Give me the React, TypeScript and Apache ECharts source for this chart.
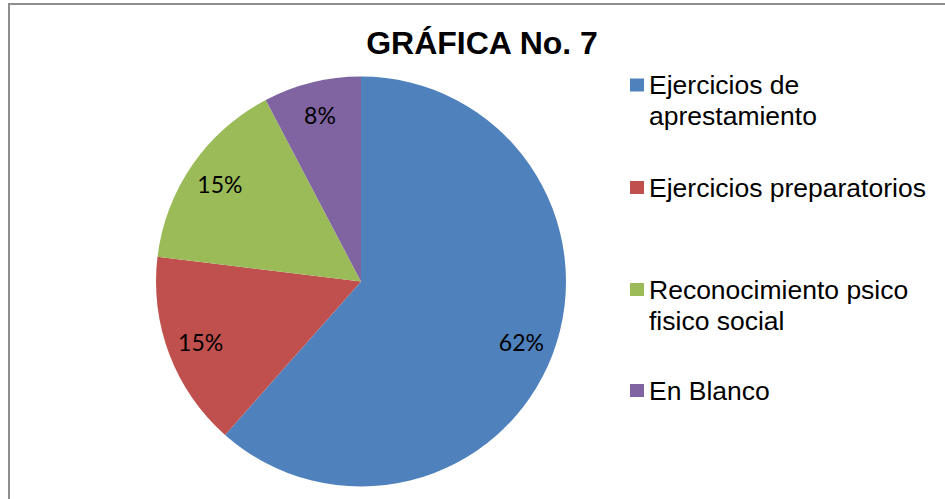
import React, { useEffect, useRef } from "react";
import * as echarts from "echarts";

const titleText = "GRÁFICA No. 7";
const categories = [
  "Ejercicios de\naprestamiento",
  "Ejercicios preparatorios",
  "Reconocimiento psico\nfisico social",
  "En Blanco",
];
const values = [8, 2, 2, 1];
const colors = ["#4F81BD", "#C0504D", "#9BBB59", "#8064A2"];
const legendTops = [38.5, 172, 243, 375];

export default function App() {
  const ref = useRef<HTMLDivElement>(null);
  useEffect(() => {
    if (!ref.current) return;
    const chart = echarts.init(ref.current, undefined, { renderer: "svg" });
    const data = categories.map((name, i) => ({
      name,
      value: values[i],
      itemStyle: { color: colors[i] },
    }));
    const legends = categories.map((name, i) => ({
      orient: "vertical",
      left: 630,
      top: legendTops[i],
      padding: 0,
      data: [name],
      icon: "rect",
      itemWidth: 14,
      itemHeight: 13,
      selectedMode: false,
      formatter: (n: string) => (n.includes("\n") ? "\n" + n : n),
      textStyle: {
        fontFamily: "Liberation Sans, Arial, sans-serif",
        fontSize: 26.5,
        lineHeight: 31,
        color: "#000",
      },
    }));
    chart.setOption({
      animation: false,
      backgroundColor: "#fff",
      title: {
        text: titleText,
        left: 477,
        top: 38,
        textAlign: "center",
        textVerticalAlign: "middle",
        textStyle: {
          fontFamily: "Liberation Sans, Arial, sans-serif",
          fontSize: 32,
          fontWeight: "bold",
          color: "#000",
        },
      },
      legend: legends,
      graphic: [
        {
          type: "line",
          shape: { x1: 8, y1: 4, x2: 945, y2: 4 },
          style: { stroke: "#8e8e8e", lineWidth: 2 },
          silent: true,
        },
        {
          type: "line",
          shape: { x1: 9, y1: 3, x2: 9, y2: 499 },
          style: { stroke: "#8e8e8e", lineWidth: 2 },
          silent: true,
        },
      ],
      series: [
        {
          type: "pie",
          center: [361, 281.5],
          radius: [0, 205],
          startAngle: 90,
          clockwise: true,
          label: { show: false },
          labelLine: { show: false },
          silent: true,
          data,
        },
        {
          type: "pie",
          center: [361, 281.5],
          radius: [132, 205],
          startAngle: 90,
          clockwise: true,
          silent: true,
          itemStyle: { color: "rgba(0,0,0,0)" },
          label: {
            show: true,
            position: "inside",
            formatter: (p: any) => Math.round(p.percent) + "%",
            fontFamily: "Lato, Noto Sans, sans-serif",
            fontSize: 23,
            color: "#000",
          },
          labelLine: { show: false },
          data: categories.map((name, i) => ({ name, value: values[i] })),
        },
      ],
    });
    return () => chart.dispose();
  }, []);
  return (
    <div
      ref={ref}
      style={{ position: "absolute", left: 0, top: 0, width: 945, height: 499 }}
    />
  );
}
